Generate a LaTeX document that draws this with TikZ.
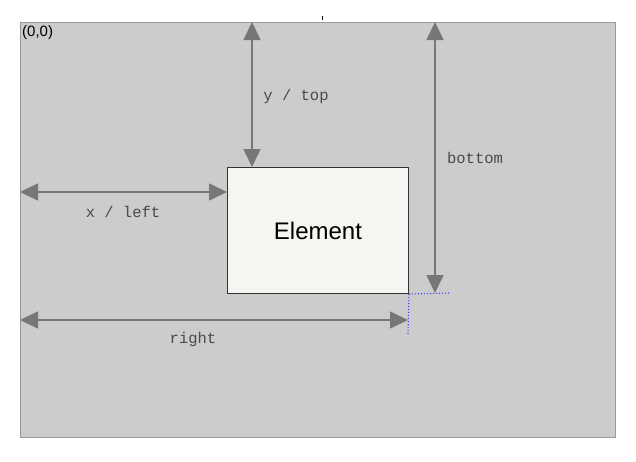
\documentclass[tikz,border=0pt]{standalone}
\usepackage{fontspec}
\setmainfont{Liberation Sans}
\newfontfamily\monofont{Liberation Mono}
\usetikzlibrary{arrows.meta}
\definecolor{bggray}{HTML}{CCCCCC}
\definecolor{edgegray}{HTML}{999999}
\definecolor{arrgray}{HTML}{777777}
\definecolor{elfill}{HTML}{F7F5F1}
\definecolor{labgray}{HTML}{4A4A4A}
\tikzset{
  dimarrow/.style={draw=arrgray, line width=1.6pt,
    {Triangle[length=18pt,width=17pt]}-{Triangle[length=18pt,width=17pt]}, fill=arrgray},
  dimlabel/.style={font=\monofont\fontsize{15.5}{18}\selectfont, text=labgray, inner sep=0pt},
  guide/.style={draw=blue!75!white, line width=1.1pt, dash pattern=on 1.2pt off 1.8pt},
}
\begin{document}
\begin{tikzpicture}[x=1pt,y=-1pt]
\useasboundingbox (0,0) rectangle (636,461);
% canvas
\node[draw=edgegray, fill=bggray, line width=1pt, minimum width=595pt, minimum height=415pt,
  inner sep=0pt, anchor=north west] (canvas) at (20,22) {};
\node[anchor=north west, inner sep=0pt, font=\fontsize{15}{17}\selectfont] (origin) at (22,25) {(0,0)};
\fill (321.5,16) rectangle (322.8,19.5);
% element
\node[draw=black!80, fill=elfill, line width=1pt, minimum width=181pt, minimum height=126pt,
  inner sep=0pt, anchor=north west, font=\fontsize{24}{28}\selectfont] (el) at (227,167) {Element};
% coordinates
\coordinate (topA) at (252,22);
\coordinate (topB) at (252,167);
\coordinate (leftA) at (20,192);
\coordinate (leftB) at (227,192);
\coordinate (botA) at (435,22);
\coordinate (botB) at (435,293);
\coordinate (rightA) at (20,320);
\coordinate (rightB) at (408,320);
\coordinate (gh) at (450,293);
\coordinate (gv) at (408,334);
% arrows
\draw[dimarrow] (topA) -- (topB);
\draw[dimarrow] (leftA) -- (leftB);
\draw[dimarrow] (botA) -- (botB);
\draw[dimarrow] (rightA) -- (rightB);
% guides
\draw[guide] (el.south east) -- (gh);
\draw[guide] (el.south east) -- (gv);
% labels
\node[dimlabel] (ltop) at (296,96) {y / top};
\node[dimlabel] (lleft) at (123,212) {x / left};
\node[dimlabel] (lbot) at (475,158) {bottom};
\node[dimlabel] (lright) at (193,339) {right};
\end{tikzpicture}
\end{document}
